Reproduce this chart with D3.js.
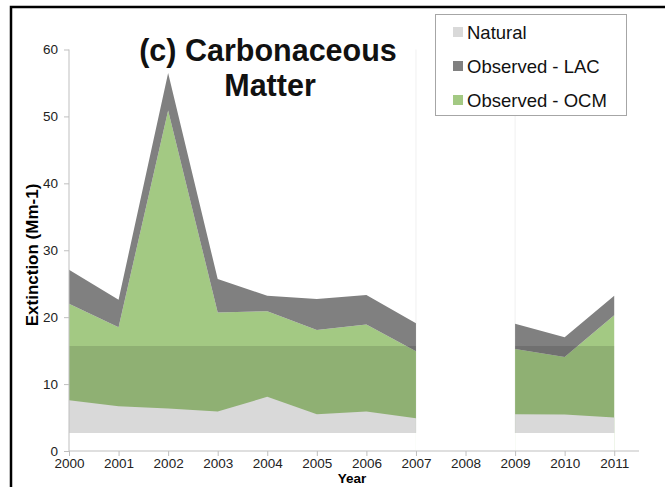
<!DOCTYPE html>
<html>
<head>
<meta charset="utf-8">
<script src="https://cdn.jsdelivr.net/npm/d3@7"></script>
<style>
  html, body { margin: 0; padding: 0; background: #fff; }
  svg { display: block; font-family: "Liberation Sans", Arial, sans-serif; }
</style>
</head>
<body>
<svg id="chart" width="665" height="487"></svg>
<script>
// Annual extinction from carbonaceous matter (Mm-1); 2008 has no observations
const years = [2000, 2001, 2002, 2003, 2004, 2005, 2006, 2007, 2008, 2009, 2010, 2011];
const observedOCM = [22.0, 18.5, 50.9, 20.7, 20.9, 18.1, 18.9, 14.9, null, 15.25, 14.05, 20.3];
const observedLAC = [5.1, 4.1, 5.6, 5.0, 2.3, 4.6, 4.4, 4.2, null, 3.75, 2.95, 2.9];
const natural = [7.6, 6.7, 6.35, 5.9, 8.1, 5.5, 5.9, 4.9, null, 5.5, 5.45, 5.0];
const naturalFloor = 2.7;
const bandLevel = 15.7;
const yTicks = [0, 10, 20, 30, 40, 50, 60];
const legendLabels = ["Natural", "Observed - LAC", "Observed - OCM"];
const colors = { natural: "#d9d9d9", lac: "#808080", ocm: "#a3c983" };

const svg = d3.select("#chart");

const x = d3.scaleLinear().domain([2000, 2011.5]).range([69, 639]);
const y = d3.scaleLinear().domain([0, 60]).range([451, 49.5]);

const rows = years.map((yr, i) => ({
  year: yr,
  ocm: observedOCM[i],
  lac: observedLAC[i],
  natural: natural[i]
}));
const has = d => d.ocm !== null;

const stacked = d3.stack().keys(["ocm", "lac"]).value((d, k) => d[k] === null ? 0 : d[k])(rows);

// faint edge lines bounding the data gap
svg.append("g").selectAll("line").data([2007, 2009]).join("line")
  .attr("x1", d => x(d)).attr("x2", d => x(d))
  .attr("y1", y(60)).attr("y2", y(naturalFloor))
  .attr("stroke", "#f0f0f0").attr("stroke-width", 1);

const stackArea = d3.area()
  .defined(d => has(d.data))
  .x(d => x(d.data.year))
  .y0(d => y(d[0]))
  .y1(d => y(d[1]));

svg.append("g").selectAll("path").data(stacked).join("path")
  .attr("d", stackArea)
  .attr("fill", d => d.key === "ocm" ? colors.ocm : colors.lac);

// translucent reference band over the observed stack
const bandArea = d3.area()
  .defined(has)
  .x(d => x(d.year))
  .y0(y(naturalFloor))
  .y1(y(bandLevel));
svg.append("path").datum(rows).attr("d", bandArea)
  .attr("fill", "#000").attr("fill-opacity", 0.12);

// blank strip beneath the natural floor
const floorArea = d3.area()
  .defined(has)
  .x(d => x(d.year))
  .y0(y(0))
  .y1(y(naturalFloor));
svg.append("path").datum(rows).attr("d", floorArea).attr("fill", "#fff");

// natural contribution
const naturalArea = d3.area()
  .defined(has)
  .x(d => x(d.year))
  .y0(y(naturalFloor))
  .y1(d => y(d.natural));
svg.append("path").datum(rows).attr("d", naturalArea).attr("fill", colors.natural);

// axes
const axisColor = "#bfbfbf";
const xAxis = svg.append("g").attr("transform", `translate(0,${y(0)})`)
  .call(d3.axisBottom(x).tickValues(years).tickFormat(d3.format("d")).tickSize(5).tickPadding(2));
xAxis.select(".domain").attr("stroke", axisColor).attr("d", `M${x(2000)},0H${x(2011.5)}`);
xAxis.selectAll(".tick line").attr("stroke", axisColor);
xAxis.selectAll("text").attr("font-size", 13.5).attr("fill", "#222")
  .attr("font-family", "Liberation Sans, Arial, sans-serif");

const yAxis = svg.append("g").attr("transform", `translate(${x(2000)},0)`)
  .call(d3.axisLeft(y).tickValues(yTicks).tickSize(5).tickPadding(6));
yAxis.select(".domain").attr("stroke", axisColor).attr("d", `M0,${y(0)}V${y(60)}`);
yAxis.selectAll(".tick line").attr("stroke", axisColor);
yAxis.selectAll("text").attr("font-size", 13.5).attr("fill", "#222")
  .attr("font-family", "Liberation Sans, Arial, sans-serif");

// axis titles
svg.append("text").attr("x", 352).attr("y", 483).attr("text-anchor", "middle")
  .attr("font-size", 13.5).attr("font-weight", "bold").text("Year");
svg.append("text").attr("transform", `translate(38,255) rotate(-90)`)
  .attr("text-anchor", "middle").attr("font-size", 17).attr("font-weight", "bold")
  .text("Extinction (Mm-1)");

// title
const title = svg.append("text").attr("text-anchor", "middle")
  .attr("font-size", 30.5).attr("font-weight", "bold").attr("fill", "#111");
title.append("tspan").attr("x", 268).attr("y", 61).text("(c) Carbonaceous");
title.append("tspan").attr("x", 270).attr("y", 96).text("Matter");

// legend
const legend = svg.append("g");
legend.append("rect").attr("x", 435.5).attr("y", 14.5).attr("width", 191).attr("height", 101)
  .attr("fill", "#fff").attr("stroke", "#a6a6a6");
const legendColors = [colors.natural, colors.lac, colors.ocm];
const items = legend.selectAll("g.item").data(legendLabels).join("g").attr("class", "item")
  .attr("transform", (d, i) => `translate(453,${32 + i * 34})`);
items.append("rect").attr("x", 0).attr("y", -5).attr("width", 10).attr("height", 10)
  .attr("fill", (d, i) => legendColors[i]);
items.append("text").attr("x", 14).attr("y", 6.5).attr("font-size", 18.5).attr("fill", "#111").text(d => d);

// frame
svg.append("path").attr("d", "M11,487V7H665").attr("fill", "none").attr("stroke", "#000").attr("stroke-width", 2.5);
</script>
</body>
</html>
